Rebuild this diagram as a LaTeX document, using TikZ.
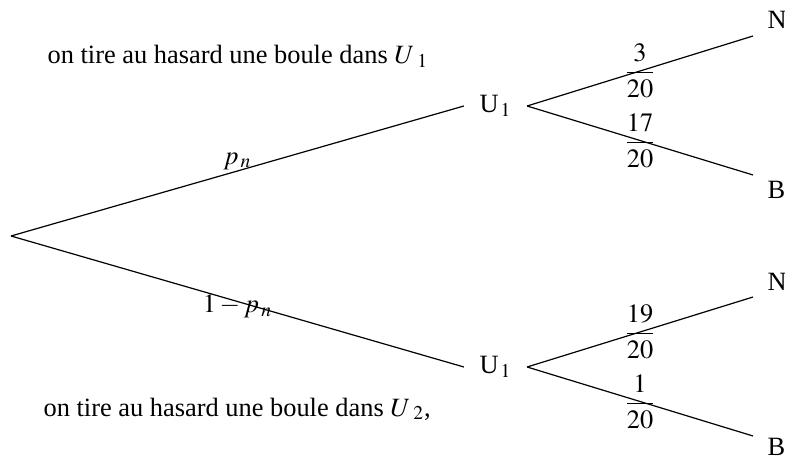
\documentclass[tikz,border=0pt]{standalone}
\usepackage{amsmath}
\usepackage{mathptmx}
\usepackage[no-math]{fontspec}
\setmainfont{Liberation Serif}
\usepackage{tikz}
\usetikzlibrary{positioning}

\begin{document}
\begin{tikzpicture}[x=0.5pt, y=-0.5pt, line width=0.6pt,
    font=\fontsize{13.2}{16}\selectfont,
    texte/.style={anchor=base west, inner sep=0pt},
    urne/.style={inner xsep=7.5pt, inner ysep=2pt},
    feuille/.style={anchor=base west, inner sep=0pt},
    proba/.style={inner sep=0pt}]
  \useasboundingbox (0,0) rectangle (785,459);
  % Texts
  \node[texte] (tirage1) at (47,64)
    {on tire au hasard une boule dans $U_{\hspace{3pt}1}$};
  \node[texte] (tirage2) at (43,416)
    {on tire au hasard une boule dans $U_{\hspace{3pt}2}$,};
  % Root and urns
  \coordinate (racine) at (11,236);
  \node[urne] (u1) at (495.5,106) {U$_{\,1}$};
  \node[urne] (u2) at (495.5,367) {U$_{\,1}$};
  % Leaves
  \coordinate (fN1) at (753,36);
  \coordinate (fB1) at (753,175);
  \coordinate (fN2) at (753,297);
  \coordinate (fB2) at (753,436);
  \node[feuille] (N1) at (767,29) {N};
  \node[feuille] (B1) at (767,199) {B};
  \node[feuille] (N2) at (767,291) {N};
  \node[feuille] (B2) at (767,455) {B};
  % First level
  \draw (racine) -- node[above, inner sep=0.5pt] (pn) {$p_{\,n}$} (u1.west);
  \draw (racine) -- node[pos=0.5, yshift=-2.5pt, inner sep=0pt] (qn)
    {$1-p_{\,n}$} (u2.west);
  % Second level, U1
  \draw (u1.east) -- node[proba] (f3) {$\dfrac{3}{20}$} (fN1);
  \draw (u1.east) -- node[proba] (f17) {$\dfrac{17}{20}$} (fB1);
  % Second level, U2
  \draw (u2.east) -- node[proba] (f19) {$\dfrac{19}{20}$} (fN2);
  \draw (u2.east) -- node[proba] (f1) {$\dfrac{1}{20}$} (fB2);
\end{tikzpicture}
\end{document}
